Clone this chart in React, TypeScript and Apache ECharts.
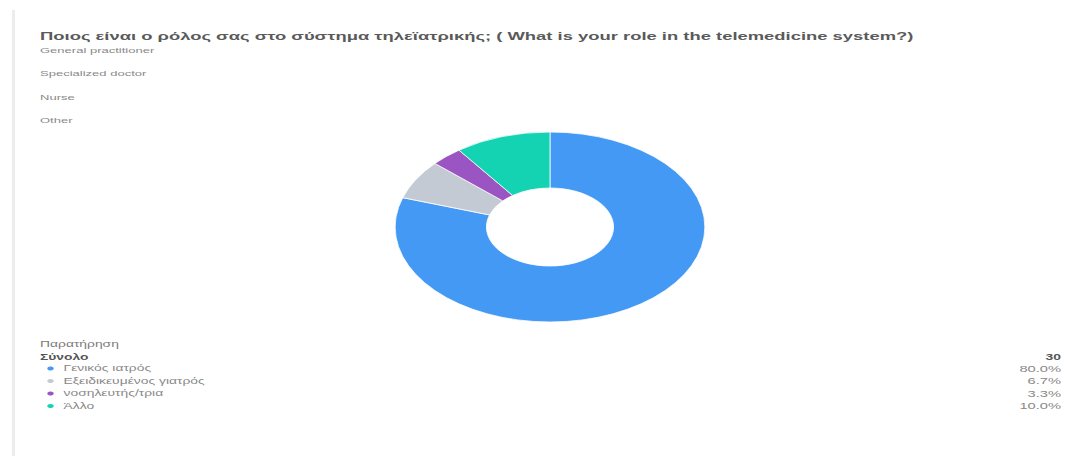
import React, { useEffect, useRef } from "react";
import * as echarts from "echarts";

const SX = 1.63;
const W = 1077 / SX;
const H = 456;

const titleText =
  "Ποιος είναι ο ρόλος σας στο σύστημα τηλεϊατρικής; ( What is your role in the telemedicine system?)";
const optionLabels = ["General practitioner", "Specialized doctor", "Nurse", "Other"];
const categories = ["Γενικός ιατρός", "Εξειδικευμένος γιατρός", "νοσηλευτής/τρια", "Άλλο"];
const counts = [24, 2, 1, 3];
const colors = ["#4499F5", "#C3CAD3", "#9B55C2", "#14D3B3"];
const noteLabel = "Παρατήρηση";
const totalLabel = "Σύνολο";

const FONT = "'Liberation Sans', Arial, sans-serif";

export default function App() {
  const ref = useRef<HTMLDivElement>(null);
  useEffect(() => {
    if (!ref.current) return;
    const chart = echarts.init(ref.current, undefined, { renderer: "svg" });
    const total = counts.reduce((a, b) => a + b, 0);
    const x = (px: number) => px / SX;
    const optionYs = [50, 73, 97, 120];
    const rowYs = [369, 381.5, 394, 406.5];
    const graphics: any[] = [
      {
        type: "rect",
        shape: { x: x(12), y: 10, width: x(3), height: 446 },
        style: { fill: "#ececec" },
        silent: true,
      },
      ...optionLabels.map((t, i) => ({
        type: "text",
        x: x(40),
        y: optionYs[i],
        style: { text: t, fill: "#8a8a8a", fontSize: 8, fontFamily: FONT, verticalAlign: "middle" },
      })),
      {
        type: "text",
        x: x(40),
        y: 344,
        style: { text: noteLabel, fill: "#7a7a7a", fontSize: 8.5, fontFamily: FONT, verticalAlign: "middle" },
      },
      {
        type: "text",
        x: x(40),
        y: 357,
        style: {
          text: totalLabel,
          fill: "#555",
          fontSize: 8.5,
          fontWeight: "bold",
          fontFamily: FONT,
          verticalAlign: "middle",
        },
      },
      {
        type: "text",
        x: x(1061),
        y: 357,
        style: {
          text: String(total),
          fill: "#555",
          fontSize: 8.5,
          fontWeight: "bold",
          fontFamily: FONT,
          align: "right",
          verticalAlign: "middle",
        },
      },
      ...counts.map((c, i) => ({
        type: "text",
        x: x(1061),
        y: rowYs[i],
        style: {
          text: ((c / total) * 100).toFixed(1) + "%",
          fill: "#888",
          fontSize: 9,
          fontFamily: FONT,
          align: "right",
          verticalAlign: "middle",
        },
      })),
    ];
    chart.setOption({
      animation: false,
      color: colors,
      title: {
        text: titleText,
        left: x(40),
        top: 30,
        padding: 0,
        textStyle: { fontSize: 11.3, fontWeight: "bold", color: "#5a5a5a", fontFamily: FONT },
      },
      legend: {
        orient: "vertical",
        left: x(44),
        top: 363.5,
        icon: "circle",
        itemWidth: 6,
        itemHeight: 6,
        itemGap: 2.5,
        padding: 0,
        data: categories,
        textStyle: { fontSize: 8.5, lineHeight: 10, color: "#888", fontFamily: FONT, padding: 0 },
        selectedMode: false,
      },
      graphic: graphics,
      series: [
        {
          type: "pie",
          center: [x(550), 227],
          radius: [39, 95],
          startAngle: 90,
          clockwise: true,
          label: { show: false },
          labelLine: { show: false },
          itemStyle: { borderColor: "#fff", borderWidth: 0.6 },
          emphasis: { disabled: true },
          data: categories.map((name, i) => ({ name, value: counts[i] })),
        },
      ],
    });
    return () => chart.dispose();
  }, []);
  return (
    <div
      style={{
        position: "absolute",
        left: 0,
        top: 0,
        width: 1077,
        height: H,
        overflow: "hidden",
        background: "#fff",
      }}
    >
      <div
        ref={ref}
        style={{
          width: W,
          height: H,
          transform: `scaleX(${SX})`,
          transformOrigin: "0 0",
        }}
      />
    </div>
  );
}
